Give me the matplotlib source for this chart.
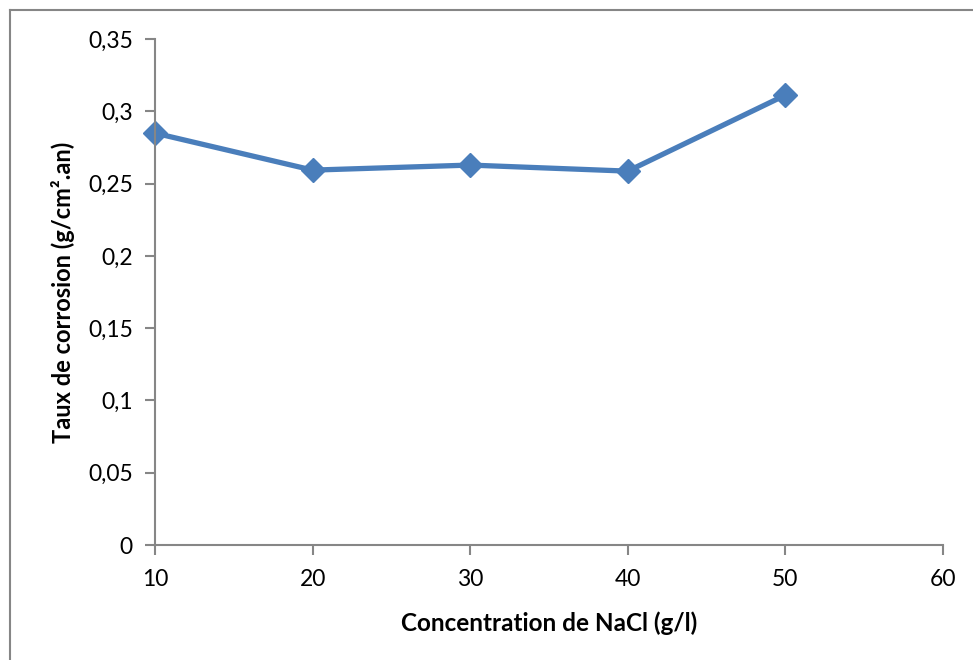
import matplotlib
matplotlib.use("Agg")
import matplotlib.pyplot as plt
from matplotlib.lines import Line2D
from matplotlib.ticker import FuncFormatter, MultipleLocator

# NaCl concentration (g/l) vs corrosion rate (g/cm².an)
concentration = [10, 20, 30, 40, 50]
taux = [0.2849, 0.2593, 0.2628, 0.2586, 0.3112]

plt.rcParams['font.family'] = ['Lato', 'DejaVu Sans']

fig = plt.figure(figsize=(9.73, 6.6), dpi=100)
ax = fig.add_axes([155 / 973, 115 / 660, 788 / 973, 506 / 660])

ax.plot(concentration, taux, color='#4A7EBB', linewidth=3.8,
        marker='D', markersize=12, markerfacecolor='#4A7EBB',
        markeredgecolor='#4A7EBB', solid_joinstyle='round', clip_on=False)

ax.set_xlim(10, 60)
ax.set_ylim(0, 0.35)
ax.xaxis.set_major_locator(MultipleLocator(10))
ax.yaxis.set_major_locator(MultipleLocator(0.05))

def comma(v, pos):
    s = ('%.2f' % v).rstrip('0').rstrip('.')
    return s.replace('.', ',')

ax.yaxis.set_major_formatter(FuncFormatter(comma))
ax.xaxis.set_major_formatter(FuncFormatter(lambda v, p: '%d' % v))

for side in ['top', 'right']:
    ax.spines[side].set_visible(False)
for side in ['left', 'bottom']:
    ax.spines[side].set_color('#868686')
    ax.spines[side].set_linewidth(1.5)
ax.tick_params(axis='both', direction='out', length=7, width=1.5,
               color='#868686', labelsize=16.5, labelcolor='black')
ax.tick_params(axis='y', pad=9)
ax.tick_params(axis='x', pad=10)

ax.set_xlabel('Concentration de NaCl (g/l)', fontsize=17.5, fontweight='bold', labelpad=16)
ax.set_ylabel('Taux de corrosion (g/cm².an)', fontsize=17, fontweight='bold', labelpad=9)

# chart area frame (only the left and top edges show)
fig.add_artist(Line2D([9.5 / 973, 9.5 / 973], [0, 1 - 9.5 / 660], color='#868686', linewidth=1.5))
fig.add_artist(Line2D([9.5 / 973, 1], [1 - 9.5 / 660, 1 - 9.5 / 660], color='#868686', linewidth=1.5))

fig.savefig('out.png', dpi=100)
